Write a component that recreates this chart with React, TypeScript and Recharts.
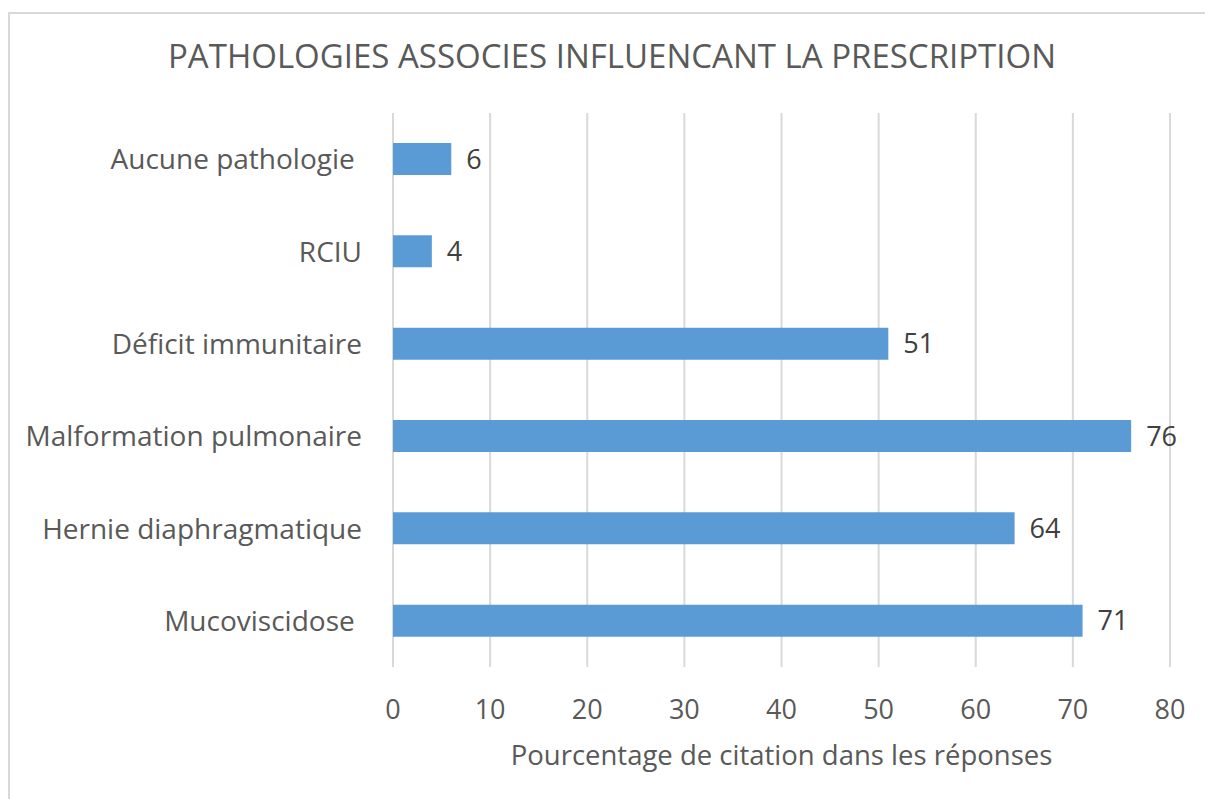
import React from "react";
import { BarChart, Bar, XAxis, YAxis, CartesianGrid, LabelList } from "recharts";

const categories = [
  "Aucune pathologie ",
  "RCIU",
  "Déficit immunitaire",
  "Malformation pulmonaire",
  "Hernie diaphragmatique",
  "Mucoviscidose ",
];
const values = [6, 4, 51, 76, 64, 71];
const xTicks = [0, 10, 20, 30, 40, 50, 60, 70, 80];

const data = categories.map((name, i) => ({ name, value: values[i] }));

const FONT = "'Open Sans', 'Noto Sans', sans-serif";
const GREY = "#595959";

const YTick = ({ x, y, payload }: any) => (
  <text
    x={x}
    y={y}
    dy={10}
    textAnchor="end"
    fill={GREY}
    fontSize={28}
    fontFamily={FONT}
    xmlSpace="preserve"
    style={{ whiteSpace: "pre" }}
  >
    {payload.value}
  </text>
);

export default function App() {
  return (
    <div style={{ position: "fixed", left: 0, top: 0, width: 1205, height: 799, background: "#fff", overflow: "hidden", fontFamily: FONT }}>
      <div
        style={{
          position: "absolute",
          left: 8,
          top: 12,
          width: 1300,
          height: 900,
          borderTop: "2px solid #D9D9D9",
          borderLeft: "2px solid #D9D9D9",
        }}
      />
      <div style={{ position: "absolute", left: 0, top: 33, width: 1224, textAlign: "center", fontSize: 33, color: GREY, whiteSpace: "nowrap" }}>
        PATHOLOGIES ASSOCIES INFLUENCANT LA PRESCRIPTION
      </div>
      <div style={{ position: "absolute", left: 393, top: 736, width: 777, textAlign: "center", fontSize: 27.5, color: GREY, whiteSpace: "nowrap" }}>
        Pourcentage de citation dans les réponses
      </div>
      <div style={{ position: "absolute", left: 0, top: 0 }}>
        <BarChart
          width={1205}
          height={799}
          data={data}
          layout="vertical"
          margin={{ top: 113, right: 35, left: 0, bottom: 92 }}
        >
          <CartesianGrid horizontal={false} stroke="#D9D9D9" strokeWidth={2} />
          <XAxis
            type="number"
            domain={[0, 80]}
            ticks={xTicks}
            axisLine={false}
            tickLine={false}
            tickSize={0}
            tickMargin={33}
            height={40}
            tick={{ fill: GREY, fontSize: 27, fontFamily: FONT }}
          />
          <YAxis
            type="category"
            dataKey="name"
            width={393}
            axisLine={false}
            tickLine={false}
            tickSize={0}
            tickMargin={31}
            tick={<YTick />}
          />
          <Bar dataKey="value" fill="#5B9BD5" barSize={32} isAnimationActive={false}>
            <LabelList dataKey="value" position="right" offset={15} fill="#404040" fontSize={27} fontFamily={FONT} />
          </Bar>
        </BarChart>
      </div>
    </div>
  );
}
